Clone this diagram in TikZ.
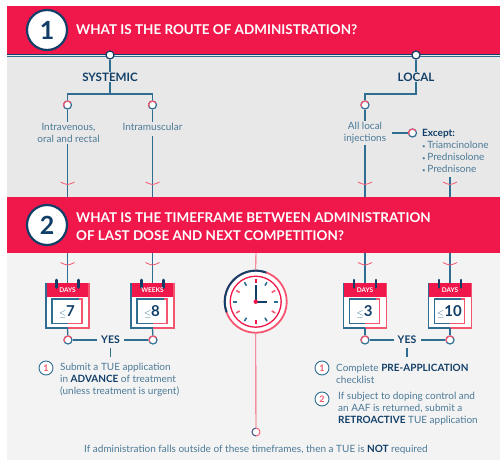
\documentclass[tikz,border=0pt]{standalone}
\usepackage{fontspec}
\setmainfont{Lato}
\definecolor{bandred}{HTML}{F0174B}
\definecolor{navy}{HTML}{123F68}
\definecolor{linkblue}{HTML}{2F6D92}
\definecolor{softblue}{HTML}{4C7A98}
\definecolor{ringred}{HTML}{F4566F}
\definecolor{panelgrey}{HTML}{E8E8E8}
\definecolor{panellight}{HTML}{F3F3F3}
\newcommand{\dotitem}{{\fontsize{6}{6}\selectfont•}\,}
\tikzset{
    stepnum/.style ={
        shape=circle,
        draw=navy,
        line width=2.2pt,
        fill=white,
        text=navy,
        minimum size=40pt,
        inner sep=0pt,
        font=\fontsize{25}{25}\selectfont\bfseries
    },
    title/.style ={
        anchor=west,
        align=left,
        inner sep=0pt,
        text=white,
        font=\fontsize{13.45}{18}\selectfont\bfseries
    },
    head/.style ={
        text=navy,
        inner sep=1pt,
        font=\fontsize{11.6}{12}\selectfont\bfseries
    },
    note/.style ={
        text=softblue,
        align=center,
        inner sep=1pt,
        font=\fontsize{10}{12}\selectfont
    },
    notel/.style ={
        note,
        anchor=west,
        align=left,
        inner sep=0pt
    },
    topport/.style ={
        shape=circle,
        draw=navy,
        line width=1.2pt,
        fill=white,
        minimum size=8pt,
        inner sep=0pt
    },
    port/.style ={
        topport,
        draw=linkblue
    },
    numring/.style ={
        shape=circle,
        draw=linkblue,
        line width=0.9pt,
        fill=white,
        text=ringred,
        minimum size=14pt,
        inner sep=0pt,
        font=\fontsize{9}{9}\selectfont\bfseries
    },
    link/.style ={
        draw=linkblue,
        line width=1.3pt
    },
    chevron/.style ={
        draw=ringred,
        line width=0.8pt
    },
    calbox/.style ={
        minimum width=43pt,
        minimum height=45pt,
        inner sep=0pt
    }
}

\begin{document}
\begin{tikzpicture}[x=1pt,y=-1pt]
    \useasboundingbox (0,0) rectangle (500,460);
    % panels
    \fill[white] (0,0) rectangle (500,460);
    \fill[panelgrey] (7,55) rectangle (500,197);
    \fill[panellight] (7,253) rectangle (500,460);
    \fill[bandred] (7,6) rectangle (500,55);
    \fill[bandred] (7,197) rectangle (500,253);
    \draw[navy,line width=1pt] (7,55) -- (500,55);
    \draw[linkblue,line width=0.8pt] (7,56.2) -- (500,56.2);

    % free ends on the bands
    \coordinate (bandA) at (67.5,197);
    \coordinate (bandB) at (152.5,197);
    \coordinate (bandC) at (365,197);
    \coordinate (bandD) at (450,197);
    \coordinate (bandE) at (256,253);
    \coordinate (lowA) at (67.5,253);
    \coordinate (lowB) at (152.5,253);
    \coordinate (lowC) at (365,253);
    \coordinate (lowD) at (450,253);

    % section heads
    \node[stepnum] (one) at(47,30) {1};
    \node[stepnum] (two) at(47,225) {2};
    \node[title] (titleone) at(76,30) {WHAT IS THE ROUTE OF ADMINISTRATION?};
    \node[title] (titletwo) at(76,227) {WHAT IS THE TIMEFRAME BETWEEN ADMINISTRATION\\OF LAST DOSE AND NEXT COMPETITION?};

    % route of administration
    \node[topport] (sysport) at(110,55) {};
    \node[topport] (locport) at(416,55) {};
    \node[head] (systemic) at(110,77) {SYSTEMIC};
    \node[head] (local) at(416,77) {LOCAL};
    \node[port] (intraport) at(67.5,105) {};
    \node[port] (muscport) at(152.5,105) {};
    \node[port] (allport) at(365,105) {};
    \node[port] (expport) at(412.5,133) {};
    \node[note] (intra) at(68.5,133) {Intravenous,\\oral and rectal};
    \node[note] (musc) at(152.5,127) {Intramuscular};
    \node[note] (all) at(365,133) {All local\\injections};
    \node[notel] (except) at(422,150.5) {\textcolor{navy}{\bfseries Except:}\\\dotitem Triamcinolone\\\dotitem Prednisolone\\\dotitem Prednisone};
    \coordinate (splitsys) at(110,94);
    \coordinate (splitloc) at(416,94);
    \coordinate (muscend) at(152.5,136);
    \coordinate (exceptend) at(450,177);

    \draw[link] (sysport) -- (systemic);
    \draw[link] (locport) -- (local);
    \draw[link] (systemic) -- (splitsys);
    \draw[link] (intraport) |- (splitsys) -| (muscport);
    \draw[link] (local) -- (splitloc) -| (allport);
    \draw[link] (intraport) -- (intraport |- intra.north);
    \draw[link] (muscport) -- (muscport |- musc.north);
    \draw[link] (allport) -- (allport |- all.north);
    \draw[link] (bandA |- intra.south) -- (bandA);
    \draw[link] (muscend) -- (bandB);
    \draw[link] (bandC |- all.south) -- (bandC);
    \draw[link] (exceptend) -- (bandD);
    \draw[link] (392,133) -- (expport);

    % calendars
    \foreach \name/\cx/\unit/\num in {calA/67.5/DAYS/7,calB/152.5/WEEKS/8,calC/365/DAYS/3,calD/450/DAYS/10}{
        \node[calbox] (\name) at(\cx,305.5) {};
        \begin{scope}[shift={(\cx,305.5)}]
            \fill[white] (-21.5,-22.5) rectangle (21.5,22.5);
            \fill[bandred] (-21.5,-22.5) rectangle (21.5,-9);
            \draw[linkblue,line width=1.3pt] (-21.5,-22.5) -- (-21.5,22.5) -- (0,22.5);
            \draw[ringred,line width=1.3pt] (21.5,-22.5) -- (21.5,22.5) -- (0,22.5);
            \draw[linkblue,line width=1.5pt] (11,-6.5) -- (-15.5,-6.5) -- (-15.5,18) -- (0,18);
            \draw[ringred,line width=1.5pt] (11,-6.5) -- (14.5,-6.5) -- (14.5,18) -- (0,18);
            \draw[navy,line width=2.6pt,line cap=round] (-11,-25.5) -- (-11,-18);
            \draw[navy,line width=2.6pt,line cap=round] (11,-25.5) -- (11,-18);
            \node[text=white,inner sep=0pt,font=\fontsize{6.5}{6.5}\selectfont\bfseries] (\name unit) at(0,-15.5) {\unit};
            \node[text=navy,inner sep=0pt,font=\fontsize{15}{15}\selectfont\bfseries] (\name num) at(-0.5,6) {\textcolor{linkblue}{\fontsize{9}{9}\selectfont$\leq$}\num};
        \end{scope}
    }

    % outcome ports
    \node[port] (portA) at(68,340) {};
    \node[port] (portB) at(153,340) {};
    \node[port] (portC) at(365,340) {};
    \node[port] (portD) at(450,340) {};
    \node[head,font=\fontsize{10.5}{12}\selectfont\bfseries] (yesleft) at(110.5,340) {YES};
    \node[head,font=\fontsize{10.5}{12}\selectfont\bfseries] (yesright) at(407,340) {YES};
    \coordinate (yesleftend) at(110.5,357);
    \coordinate (yesrightend) at(407,357);
    \coordinate (yesleftup) at(110.5,348);
    \coordinate (yesrightup) at(407,348);
    \foreach \a/\b in {lowA/calA,lowB/calB,lowC/calC,lowD/calD}{
        \draw[link] (\a) -- (\b.north);
    }
    \foreach \b/\p in {calA/portA,calB/portB,calC/portC,calD/portD}{
        \draw[link] (\b.south) -- (\p);
    }
    \draw[link] (portA) -- ([xshift=-3pt]yesleft.west);
    \draw[link] (portB) -- ([xshift=3pt]yesleft.east);
    \draw[link] (portC) -- ([xshift=-3pt]yesright.west);
    \draw[link] (portD) -- ([xshift=3pt]yesright.east);
    \draw[link] (yesleftup) -- (yesleftend);
    \draw[link] (yesrightup) -- (yesrightend);

    % clock
    \node[shape=circle,minimum size=64pt,inner sep=0pt] (clock) at(255.7,301.7) {};
    \node[port,draw=ringred,line width=0.9pt] (endport) at(256,432) {};
    \draw[draw=ringred,line width=0.9pt] (bandE) -- (clock.north);
    \draw[draw=ringred,line width=0.9pt] (clock.south) -- (endport);
    \fill[white] (clock) circle[radius=32];
    \draw[ringred,line width=1.8pt] (clock) circle[radius=31];
    \draw[navy,line width=2pt] (clock) ++(-70:31) arc[start angle=-70,end angle=-200,radius=31];
    \draw[bandred,line width=1.3pt] (clock) circle[radius=25.5];
    \foreach \a/\c in {-90/bandred,-60/linkblue,-30/ringred,0/linkblue,30/ringred,60/linkblue,90/bandred,120/linkblue,150/ringred,180/linkblue,210/ringred,240/linkblue}{
        \draw[\c,line width=1.6pt] (clock) ++(\a:18.5) -- ++(\a:4);
    }
    \draw[navy,line width=1.7pt] (clock.center) -- ++(0,-17);
    \draw[navy,line width=1.7pt] (clock.center) -- ++(11,0);
    \fill[bandred] (clock) circle[radius=2.2];

    % red upper halves of the rings
    \foreach \p in {intraport,muscport,allport,portA,portB,portC,portD,expport}{
        \draw[ringred,line width=1.2pt] (\p) ++(-30:4) arc[start angle=-30,end angle=-210,radius=4];
    }
    \draw[linkblue,line width=0.9pt] (endport) ++(90:4) arc[start angle=90,end angle=270,radius=4];

    % chevrons
    \foreach \c in {bandA,bandB,bandC,bandD}{
        \draw[chevron] (\c) ++(-7,-15) .. controls ++(3,1) and ++(-3,0) .. ++(7,2.5) .. controls ++(3,0) and ++(-3,1) .. ++(7,-2.5);
    }
    \foreach \c in {lowA,lowB,lowC,lowD}{
        \draw[chevron] (\c) ++(-7,9.5) .. controls ++(3,1) and ++(-3,0) .. ++(7,2.5) .. controls ++(3,0) and ++(-3,1) .. ++(7,-2.5);
    }

    % advice texts
    \node[numring] (numA) at(46,368) {1};
    \node[numring] (numB) at(322,368) {1};
    \node[numring] (numC) at(322,399) {2};
    \node[notel] (adviceA) at(60,380) {Submit a TUE application\\in \textcolor{navy}{\bfseries ADVANCE} of treatment\\(unless treatment is urgent)};
    \node[notel] (adviceB) at(336,374) {Complete \textcolor{navy}{\bfseries PRE-APPLICATION}\\checklist};
    \node[notel] (adviceC) at(338,409) {If subject to doping control and\\an AAF is returned, submit a\\\textcolor{navy}{\bfseries RETROACTIVE} TUE application};
    \node[note] (closing) at(256,450) {If administration falls outside of these timeframes, then a TUE is \textcolor{navy}{\bfseries NOT} required};
\end{tikzpicture}
\end{document}
